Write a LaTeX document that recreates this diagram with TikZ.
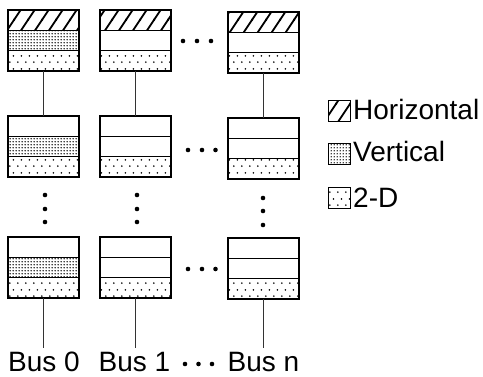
\documentclass[tikz,border=0pt]{standalone}
\usepackage{fontspec}
\setmainfont{Liberation Sans}
\usetikzlibrary{patterns}
\pgfdeclarepatternformonly{hatchband}{\pgfqpoint{-1pt}{-1pt}}{\pgfqpoint{15pt}{22pt}}{\pgfqpoint{14pt}{21pt}}{%
  \pgfsetlinewidth{1.8pt}%
  \pgfpathmoveto{\pgfqpoint{-1pt}{-1.5pt}}\pgfpathlineto{\pgfqpoint{15pt}{22.5pt}}\pgfusepath{stroke}}
\pgfdeclarepatternformonly{densedots}{\pgfqpoint{0pt}{0pt}}{\pgfqpoint{3pt}{3pt}}{\pgfqpoint{3pt}{3pt}}{%
  \pgfpathcircle{\pgfqpoint{1.5pt}{1.5pt}}{0.95pt}\pgfusepath{fill}}
\pgfdeclarepatternformonly{sparsedots}{\pgfqpoint{0pt}{0pt}}{\pgfqpoint{8pt}{13pt}}{\pgfqpoint{8pt}{13pt}}{%
  \pgfpathcircle{\pgfqpoint{2pt}{3pt}}{0.95pt}\pgfusepath{fill}%
  \pgfpathcircle{\pgfqpoint{6pt}{9.5pt}}{0.95pt}\pgfusepath{fill}}
\begin{document}
\begin{tikzpicture}[x=1pt,y=-1pt,
  bank/.style={draw, line width=1.2pt, minimum width=71pt, minimum height=61pt, inner sep=0pt, outer sep=0pt},
  band/.style={line width=1.2pt},
  hz/.style={pattern=hatchband},
  vt/.style={pattern=densedots},
  td/.style={pattern=sparsedots},
  wt/.style={},
  wire/.style={line width=0.9pt, draw=black!80},
  bdot/.style={circle, fill=black, inner sep=0pt, minimum size=4.6pt},
  lbl/.style={font=\fontsize{28}{30}\selectfont, inner sep=0pt},
  key/.style={draw, line width=0.9pt, minimum width=22pt, minimum height=21pt, inner sep=0pt, anchor=north west},
]
\useasboundingbox (0,0) rectangle (483,377);
% memory banks
\foreach \n/\x/\y/\a/\b/\c in {
  r1c1/8/10/hz/vt/td, r1c2/100/10/hz/wt/td, r1c3/228/12/hz/wt/td,
  r2c1/8/116/wt/vt/td, r2c2/100/116/wt/wt/td, r2c3/228/118/wt/wt/td,
  r3c1/8/237/wt/vt/td, r3c2/100/237/wt/wt/td, r3c3/228/238/wt/wt/td} {
  \path[\a] (\x,\y) rectangle (\x+71,\y+20.33);
  \path[\b] (\x,\y+20.33) rectangle (\x+71,\y+40.67);
  \path[\c] (\x,\y+40.67) rectangle (\x+71,\y+61);
  \draw[band] (\x,\y+20.33) -- (\x+71,\y+20.33);
  \draw[band] (\x,\y+40.67) -- (\x+71,\y+40.67);
  \node[bank, anchor=north west] (\n) at (\x,\y) {};
}
% connectors
\draw[wire] (r1c1.south) -- (r2c1.north);
\draw[wire] (r1c2.south) -- (r2c2.north);
\draw[wire] (r1c3.south) -- (r2c3.north);
\coordinate (e1) at (43.5,348);
\coordinate (e2) at (135.5,348);
\coordinate (e3) at (263.5,348);
\draw[wire] (r3c1.south) -- (e1);
\draw[wire] (r3c2.south) -- (e2);
\draw[wire] (r3c3.south) -- (e3);
% horizontal ellipses
\node[bdot] (h11) at (183,41) {};
\node[bdot] (h12) at (197,41) {};
\node[bdot] (h13) at (211,41) {};
\node[bdot] (h21) at (188,150) {};
\node[bdot] (h22) at (202,150) {};
\node[bdot] (h23) at (215.5,150) {};
\node[bdot] (h31) at (188,269) {};
\node[bdot] (h32) at (202,269) {};
\node[bdot] (h33) at (215.5,269) {};
\node[bdot] (h41) at (185,364) {};
\node[bdot] (h42) at (198.5,364) {};
\node[bdot] (h43) at (212,364) {};
% vertical ellipses
\node[bdot] (v11) at (45,195) {};
\node[bdot] (v12) at (45,209) {};
\node[bdot] (v13) at (45,222) {};
\node[bdot] (v21) at (137,195) {};
\node[bdot] (v22) at (137,209) {};
\node[bdot] (v23) at (137,222) {};
\node[bdot] (v31) at (263,198) {};
\node[bdot] (v32) at (263,211) {};
\node[bdot] (v33) at (263,225) {};
% bus labels
\node[lbl, anchor=base] (b0) at (44,372) {Bus 0};
\node[lbl, anchor=base] (b1) at (134.5,372) {Bus 1};
\node[lbl, anchor=base] (bn) at (263.5,372) {Bus n};
% legend
\node[key, pattern=hatchband] (kh) at (328,100) {};
\node[key, pattern=densedots] (kv) at (328,143) {};
\node[key, pattern=sparsedots] (kd) at (328,187) {};
\node[lbl, anchor=base west] (th) at (353,120) {Horizontal};
\node[lbl, anchor=base west] (tv) at (353,162) {Vertical};
\node[lbl, anchor=base west] (td) at (353,207.5) {2-D};
\end{tikzpicture}
\end{document}
